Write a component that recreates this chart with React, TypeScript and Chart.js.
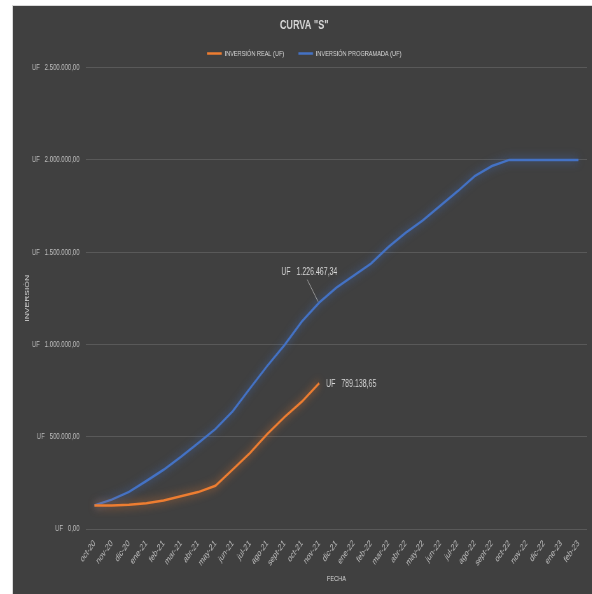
import React, { useEffect, useRef } from "react";
import { Chart, registerables } from "chart.js";

Chart.register(...registerables);

const months = [
  "oct-20", "nov-20", "dic-20", "ene-21", "feb-21", "mar-21", "abr-21", "may-21",
  "jun-21", "jul-21", "ago-21", "sept-21", "oct-21", "nov-21", "dic-21", "ene-22",
  "feb-22", "mar-22", "abr-22", "may-22", "jun-22", "jul-22", "ago-22", "sept-22",
  "oct-22", "nov-22", "dic-22", "ene-23", "feb-23",
];

const realValues: (number | null)[] = [
  128000, 128000, 131000, 140000, 155000, 177000, 200000, 234000, 322000, 412000,
  515000, 607000, 690000, 789138.65,
];

const plannedValues: number[] = [
  128000, 159000, 201000, 260000, 321000, 391000, 465000, 542000, 638000, 762000,
  884000, 997000, 1124000, 1226467.34, 1308000, 1373000, 1438000, 1527000, 1604000,
  1672000, 1751000, 1829000, 1912000, 1967000, 2000000, 2000000, 2000000, 2000000,
  2000000,
];

const seriesNames = ["INVERSIÓN REAL (UF)", "INVERSIÓN PROGRAMADA (UF)"];
const labelIndex = 13;

const FONT = "'Liberation Sans', Arial, sans-serif";
const ORANGE = "#ED7D31";
const BLUE = "#4472C4";
const SQUEEZE = 0.7; // the reference chart is horizontally compressed

function fmt(v: number): string {
  const [i, d] = v.toFixed(2).split(".");
  return i.replace(/\B(?=(\d{3})+(?!\d))/g, ".") + "," + d;
}

export default function App() {
  const ref = useRef<HTMLCanvasElement | null>(null);

  useEffect(() => {
    if (!ref.current) return;

    const glow = {
      id: "glow",
      beforeDatasetDraw(chart: any, args: any) {
        const ctx = chart.ctx;
        ctx.save();
        const ds = chart.data.datasets[args.index];
        ctx.shadowColor = ds.glowColor;
        ctx.shadowBlur = 10;
      },
      afterDatasetDraw(chart: any) {
        chart.ctx.restore();
      },
    };

    const legendSpace = {
      id: "legendSpace",
      beforeLayout(chart: any) {
        const lg = chart.legend;
        if (lg && !lg.__patched) {
          lg.afterFit = function () {
            this.height += 10;
          };
          lg.__patched = true;
        }
      },
    };

    const dataLabels = {
      id: "dataLabels",
      afterDatasetsDraw(chart: any) {
        const ctx = chart.ctx;
        ctx.save();
        ctx.font = `10px ${FONT}`;
        ctx.fillStyle = "#d9d9d9";
        ctx.textBaseline = "middle";
        const pp = chart.getDatasetMeta(1).data[labelIndex];
        if (pp) {
          ctx.strokeStyle = "#a6a6a6";
          ctx.lineWidth = 1;
          ctx.beginPath();
          ctx.moveTo(pp.x - 17, pp.y - 23);
          ctx.lineTo(pp.x - 1.5, pp.y - 1);
          ctx.stroke();
          ctx.textAlign = "center";
          ctx.fillText("UF   " + fmt(plannedValues[labelIndex]), pp.x - 14, pp.y - 30);
        }
        const rp = chart.getDatasetMeta(0).data[labelIndex];
        if (rp) {
          ctx.textAlign = "left";
          ctx.fillText("UF   " + fmt(realValues[labelIndex] as number), rp.x + 10, rp.y + 1);
        }
        ctx.restore();
      },
    };

    const chart = new Chart(ref.current, {
      type: "line",
      data: {
        labels: months,
        datasets: [
          {
            label: seriesNames[0] + "     ",
            data: realValues,
            borderColor: ORANGE,
            backgroundColor: ORANGE,
            borderWidth: 2.5,
            pointRadius: 0,
            tension: 0,
            glowColor: "rgba(237,125,49,0.8)",
          } as any,
          {
            label: seriesNames[1],
            data: plannedValues,
            borderColor: BLUE,
            backgroundColor: BLUE,
            borderWidth: 2.5,
            pointRadius: 0,
            tension: 0,
            glowColor: "rgba(68,114,196,0.8)",
          } as any,
        ],
      },
      options: {
        animation: false,
        responsive: true,
        maintainAspectRatio: false,
        layout: { padding: { left: 12, right: 7, top: 0, bottom: 4 } },
        plugins: {
          title: {
            display: true,
            text: 'CURVA "S"',
            color: "#d9d9d9",
            font: { family: FONT, size: 13, weight: "bold" },
            padding: { top: 12, bottom: 7 },
          },
          legend: {
            display: true,
            labels: {
              color: "#d9d9d9",
              font: { family: FONT, size: 8 },
              usePointStyle: true,
              pointStyle: "line",
              pointStyleWidth: 21,
              padding: 9,
            },
          },
          tooltip: { enabled: false },
        },
        scales: {
          x: {
            offset: true,
            grid: { display: false, drawTicks: false },
            border: { display: false },
            ticks: {
              color: "#bfbfbf",
              font: { family: FONT, size: 9.5 },
              minRotation: 45,
              maxRotation: 45,
              autoSkip: false,
              padding: 9,
            },
            title: {
              display: true,
              text: "FECHA",
              color: "#d9d9d9",
              font: { family: FONT, size: 8 },
              padding: { top: 0, bottom: 6 },
            },
            afterFit(scale: any) {
              scale.height = 61;
            },
          },
          y: {
            min: 0,
            max: 2500000,
            grid: { color: "#595959", lineWidth: 1, drawTicks: false },
            border: { display: false },
            ticks: {
              stepSize: 500000,
              color: "#bfbfbf",
              font: { family: FONT, size: 8.5 },
              padding: 9,
              callback: (v: any) => "UF   " + fmt(Number(v)),
            },
            title: {
              display: true,
              text: "INVERSIÓN",
              color: "#d9d9d9",
              font: { family: FONT, size: 8.5 },
              padding: { top: 4, bottom: 0 },
            },
            afterFit(scale: any) {
              scale.width = 92;
            },
          },
        },
      } as any,
      plugins: [glow, legendSpace, dataLabels],
    });

    return () => chart.destroy();
  }, []);

  const innerWidth = Math.round(579 / SQUEEZE);

  return (
    <div
      style={{
        position: "fixed",
        left: 12,
        top: 5,
        width: 580,
        height: 589,
        background: "#404040",
        borderLeft: "1px solid #d9d9d9",
        borderTop: "1px solid #d9d9d9",
        boxSizing: "border-box",
        overflow: "hidden",
      }}
    >
      <div
        style={{
          width: innerWidth,
          height: 588,
          transform: `scaleX(${SQUEEZE})`,
          transformOrigin: "left top",
        }}
      >
        <canvas ref={ref} />
      </div>
    </div>
  );
}
